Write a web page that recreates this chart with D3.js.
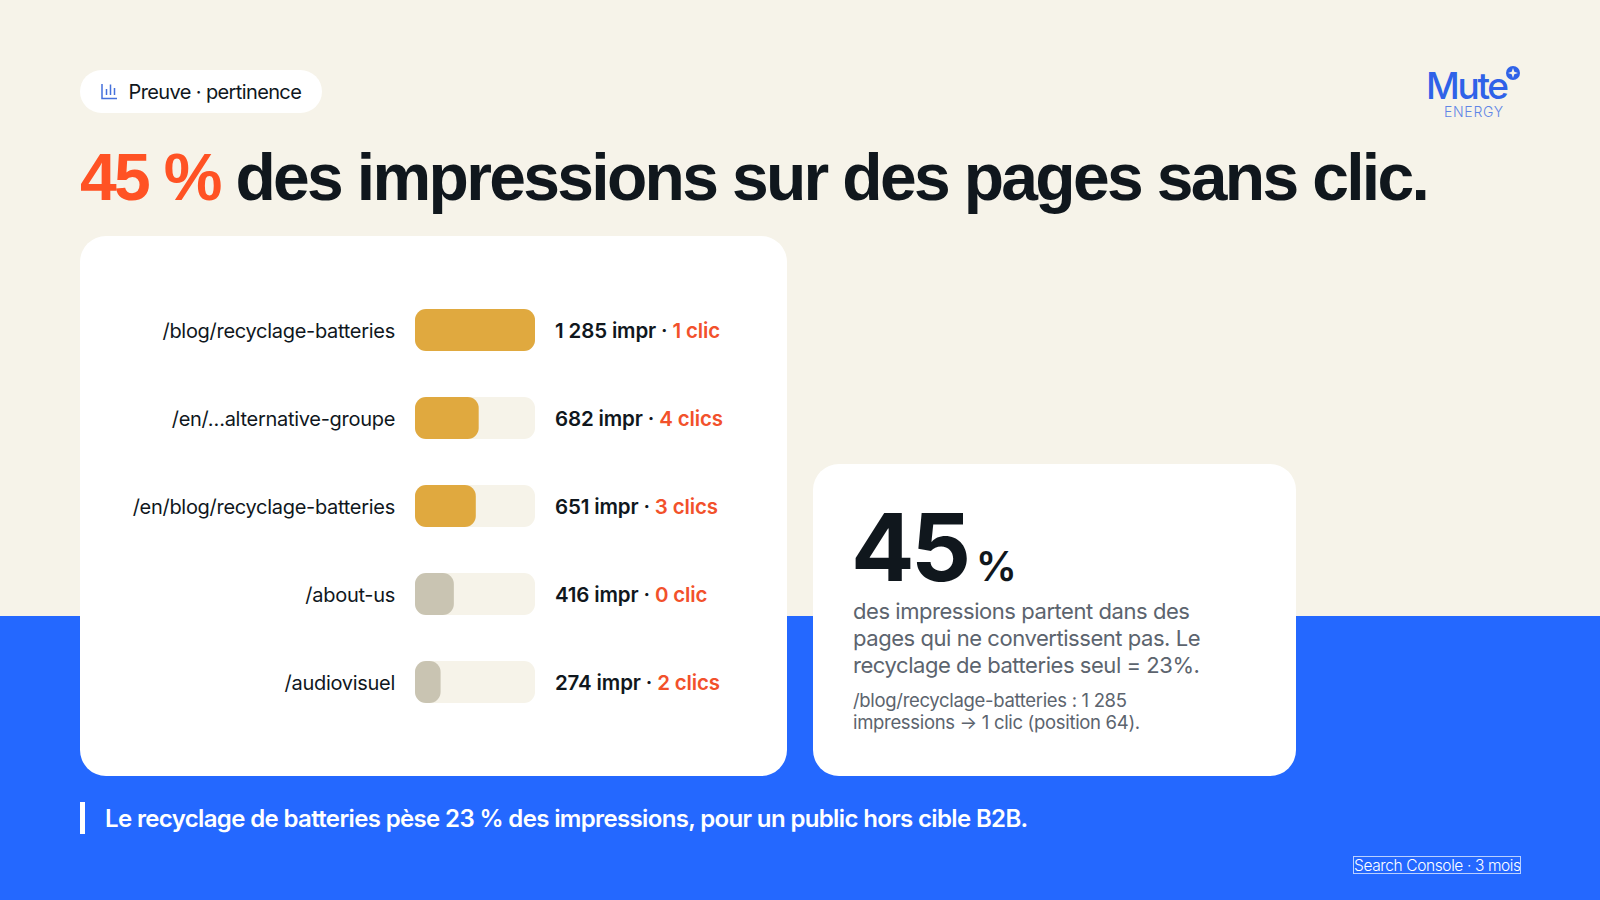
<!DOCTYPE html>
<html><head><meta charset="utf-8">
<script src="https://cdn.jsdelivr.net/npm/d3@7"></script>
<style>html,body{margin:0;padding:0;background:#f6f3e9;overflow:hidden}svg{display:block}text{font-family:Inter,sans-serif}</style>
</head><body><svg id="c" width="1600" height="900"></svg>
<script>
const pages=["/blog/recyclage-batteries","/en/…alternative-groupe","/en/blog/recyclage-batteries","/about-us","/audiovisuel"];
const impressions=[1285,682,651,416,274];
const imprLabels=["1 285 impr","682 impr","651 impr","416 impr","274 impr"];
const clickLabels=["1 clic","4 clics","3 clics","0 clic","2 clics"];
const barColors=["#e0a93f","#e0a93f","#e0a93f","#c9c4b2","#c9c4b2"];
const ink="#10171d",orange="#f2512b",blue="#2468ff",grey="#5c646e";
const svg=d3.select("#c");
const rect=(x,y,w,h,r,f)=>svg.append("rect").attr("x",x).attr("y",y).attr("width",w).attr("height",h).attr("rx",r).attr("fill",f);
const text=(x,y,s,size,w,f,a,ls)=>svg.append("text").attr("x",x).attr("y",y).attr("font-size",size).attr("font-weight",w).attr("fill",f).attr("text-anchor",a||"start").attr("letter-spacing",ls||0).text(s);
rect(0,0,1600,900,0,"#f6f3e9");
rect(0,616,1600,284,0,blue);
rect(80,70,242,43,21.5,"#fff");
svg.append("path").attr("d","M102 84V98.5H117M106.5 95V89M110.5 95V84.5M114.5 95V88").attr("stroke","#4470dc").attr("stroke-width",1.5).attr("fill","none");
text(128.5,99,"Preuve · pertinence",20,400,ink,"start",-0.62);
const t=svg.append("text").attr("x",80).attr("y",200).attr("font-size",66).attr("font-weight",700).attr("letter-spacing",-2.67).style("font-family","'Liberation Sans',sans-serif");
t.append("tspan").attr("fill","#ff5224").text("45 % ");
t.append("tspan").attr("fill",ink).text("des impressions sur des pages sans clic.");
text(1426,99,"Mute",37,500,"#2f62e8","start",-2.3);
text(1444,116.5,"ENERGY",14,300,"#5f85e6","start",0.7);
svg.append("circle").attr("cx",1513).attr("cy",73).attr("r",7).attr("fill","#2f62e8");
svg.append("path").attr("d","M1513 68L1514.3 71.7L1518 73L1514.3 74.3L1513 78L1511.7 74.3L1508 73L1511.7 71.7Z").attr("fill","#f6f3e9");
rect(80,236,707,540,26,"#fff");
rect(813,464,483,312,26,"#fff");
const y=d3.scaleBand().domain(pages).range([309,703]).paddingInner(46/88).paddingOuter(0);
const x=d3.scaleLinear().domain([0,1285]).range([0,120]);
const bh=y.bandwidth();
pages.forEach((p,i)=>{
 const y0=y(p);
 text(395,y0+29,p,20,400,ink,"end",-0.29);
 rect(415,y0,x(1285),bh,11,"#f6f3e9");
 rect(415,y0,x(impressions[i]),bh,11,barColors[i]);
 const l=svg.append("text").attr("x",555).attr("y",y0+29).attr("font-size",20.5).attr("font-weight",600).attr("letter-spacing",-0.15);
 l.append("tspan").attr("fill",ink).text(imprLabels[i]+" · ");
 l.append("tspan").attr("fill",orange).text(clickLabels[i]);
});
const big=svg.append("text").attr("x",851).attr("y",581).attr("fill",ink).attr("font-weight",700);
big.append("tspan").attr("font-size",94).attr("letter-spacing",-3.5).text("45");
big.append("tspan").attr("font-size",41).attr("font-weight",600).attr("dx",8).text("%");
["des impressions partent dans des","pages qui ne convertissent pas. Le","recyclage de batteries seul = 23%."].forEach((s,i)=>text(853,619+i*27,s,22,400,grey,"start",-0.45));
["/blog/recyclage-batteries : 1 285","impressions → 1 clic (position 64)."].forEach((s,i)=>text(853,706.5+i*22.5,s,18.5,400,grey,"start",-0.32));
rect(80,802,5,32,0,"#fff");
text(105,827,"Le recyclage de batteries pèse 23 % des impressions, pour un public hors cible B2B.",24,600,"#fff","start",-0.64);
text(1354,871,"Search Console · 3 mois",15.5,300,"#fff","start",-0.38);
svg.append("rect").attr("x",1353.5).attr("y",856.5).attr("width",167).attr("height",17).attr("fill","none").attr("stroke","#b9d0ff").attr("stroke-width",1);
</script></body></html>
